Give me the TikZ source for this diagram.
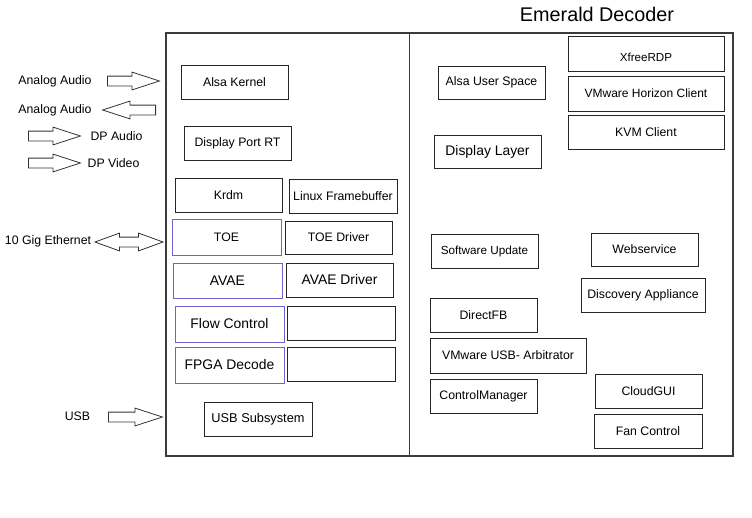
\documentclass[tikz,border=0pt]{standalone}
\usepackage{fontspec}
\setmainfont{Liberation Sans}
\usetikzlibrary{shapes.arrows}
\definecolor{boxblue}{RGB}{110,100,205}
\definecolor{framegray}{RGB}{60,60,60}

\begin{document}
\begin{tikzpicture}[x=1pt, y=-1pt,
  every node/.style={font=\fontsize{12.3}{14}\selectfont},
  box/.style={draw=black!85, line width=.8pt, inner sep=0pt, minimum width=107pt, minimum height=34pt},
  bluebox/.style={box, draw=boxblue, minimum width=109pt, minimum height=36pt},
  big/.style={font=\fontsize{13.9}{16}\selectfont},
  barrow/.style={single arrow, draw=black!80, fill=white, line width=.8pt, inner sep=4.5pt, anchor=tail,
    single arrow head extend=4pt, single arrow tip angle=36, single arrow head indent=0pt},
  darrow/.style={double arrow, draw=black!80, fill=white, line width=.8pt, inner sep=4.5pt,
    double arrow head extend=4pt, double arrow tip angle=40, double arrow head indent=0pt}]
  \useasboundingbox (0, 0) rectangle (752, 517);
  \draw [framegray, line width=1.2pt] (166, 33) rectangle (733, 456);
  \draw [framegray, line width=1pt] (409, 33) -- (409, 456);
  \node[font=\fontsize{19.8}{22}\selectfont] (title) at (597, 14) {Emerald Decoder};

  \node[box] (alsakern) at (234.5, 82) {Alsa Kernel};
  \node[box] (dport) at (237.5, 143) {Display Port RT};
  \node[box] (krdm) at (228.5, 195) {Krdm};
  \node[box, minimum width=108pt] (linuxfb) at (343, 196) {Linux Framebuffer};
  \node[bluebox] (toe) at (226.5, 237) {TOE};
  \node[box, minimum height=33pt] (toedrv) at (338.5, 237.5) {TOE Driver};
  \node[bluebox, big, minimum height=35pt] (avae) at (227.5, 280.5) {AVAE};
  \node[box, big] (avaedrv) at (339.5, 280) {AVAE Driver};
  \node[bluebox, big] (flow) at (229.5, 324) {Flow Control};
  \node[box, minimum width=108pt] (flowdrv) at (341, 323) {};
  \node[bluebox, big] (fpga) at (229.5, 365) {FPGA Decode};
  \node[box, minimum width=108pt] (fpgadrv) at (341, 364) {};
  \node[box, minimum width=108pt, font=\fontsize{12.8}{15}\selectfont] (usbsub) at (258, 419.5) {USB Subsystem};

  \node[box, minimum height=33pt] (alsauser) at (491.5, 82.5) {Alsa User Space};
  \node[box, big, minimum height=33pt] (displayer) at (487.5, 151.5) {Display Layer};
  \node[box, minimum width=156pt, minimum height=35pt, font=\fontsize{11.6}{14}\selectfont, text height=16pt, text depth=0pt] (xfree) at (646, 53.5) {XfreeRDP};
  \node[box, minimum width=156pt, minimum height=35pt, font=\fontsize{12}{14}\selectfont] (vmhorizon) at (646, 93.5) {VMware Horizon Client};
  \node[box, minimum width=156pt] (kvm) at (646, 132) {KVM Client};
  \node[box, font=\fontsize{11.7}{14}\selectfont] (swupdate) at (484.5, 251) {Software Update};
  \node[box, minimum height=33pt] (websvc) at (644.5, 249.5) {Webservice};
  \node[box, minimum width=124pt] (discovery) at (643, 295) {Discovery Appliance};
  \node[box] (directfb) at (483.5, 315) {DirectFB};
  \node[box, minimum width=156pt, minimum height=35pt] (usbarb) at (508, 355.5) {VMware USB- Arbitrator};
  \node[box] (ctrlmgr) at (483.5, 396) {ControlManager};
  \node[box] (cloudgui) at (648.5, 391) {CloudGUI};
  \node[box, minimum width=108pt] (fanctl) at (648, 431) {Fan Control};

  \node[barrow, minimum height=52pt] (ain) at (107, 81) {};
  \node[barrow, minimum height=53pt, shape border rotate=180] (aout) at (156, 110) {};
  \node[barrow, minimum height=52pt] (dpa) at (28, 136) {};
  \node[barrow, minimum height=52pt] (dpv) at (28, 163) {};
  \node[darrow, minimum height=68pt] (eth) at (129, 242) {};
  \node[barrow, minimum height=54pt] (usb) at (108, 417) {};

  \node (ainlbl) at (55, 81) {Analog Audio};
  \node (aoutlbl) at (55, 110) {Analog Audio};
  \node (dpalbl) at (116.5, 136) {DP Audio};
  \node (dpvlbl) at (113.5, 163) {DP Video};
  \node (ethlbl) at (48, 241) {10 Gig Ethernet};
  \node (usblbl) at (77.5, 416) {USB};
\end{tikzpicture}
\end{document}
